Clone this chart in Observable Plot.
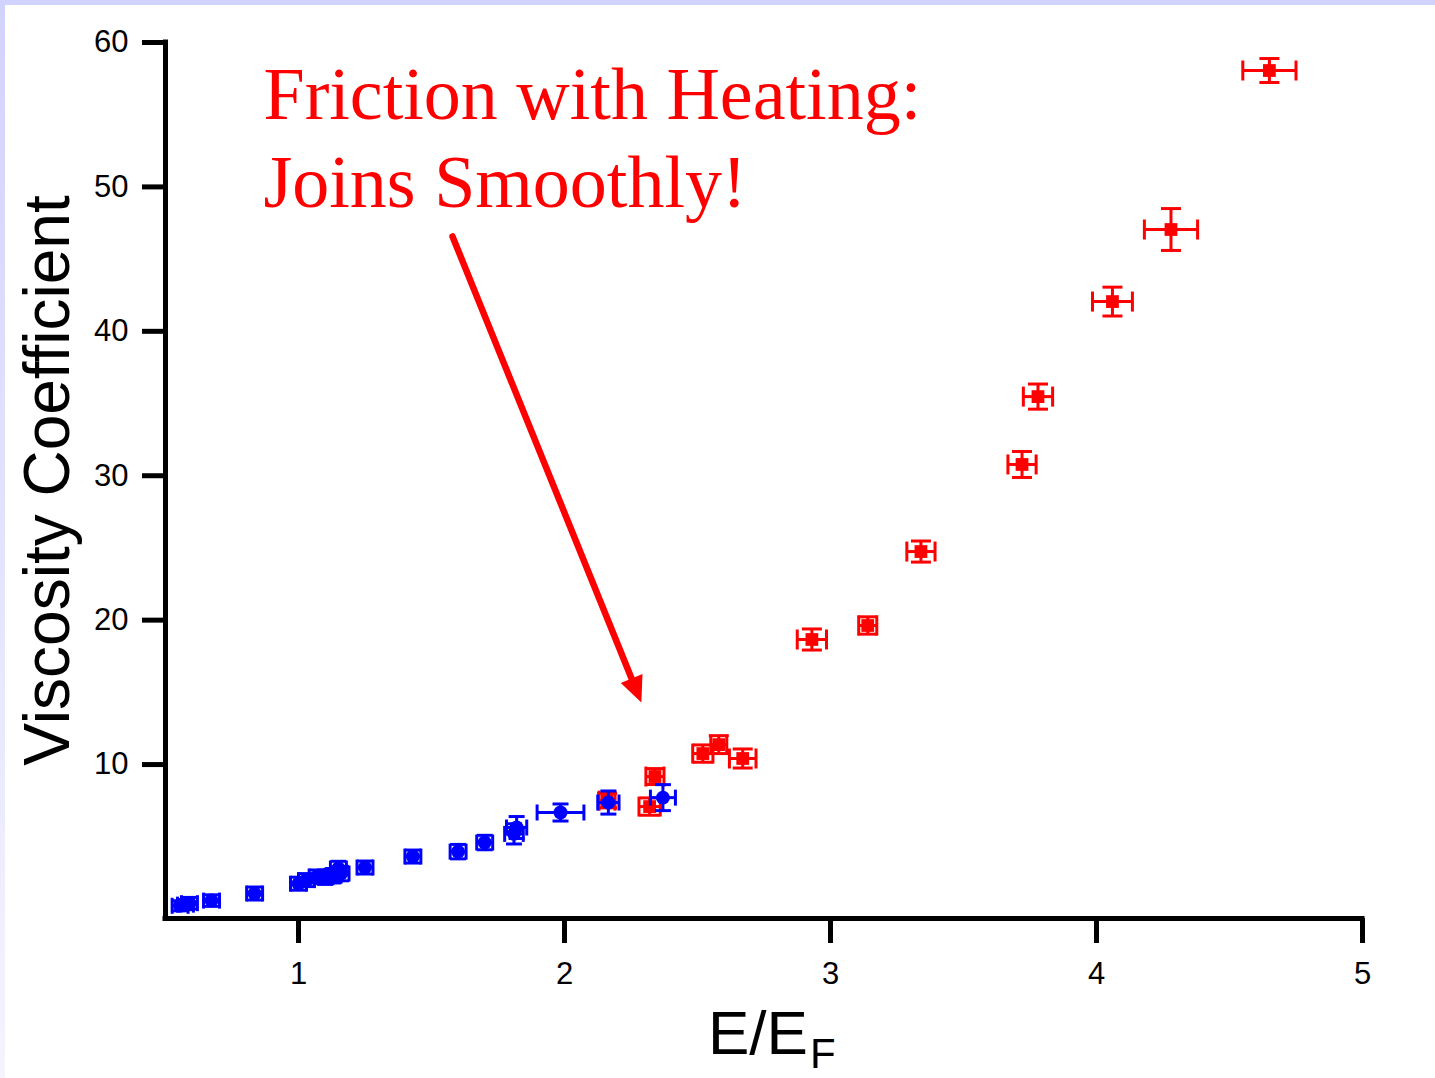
<!DOCTYPE html>
<html>
<head>
<meta charset="utf-8">
<script src="https://cdn.jsdelivr.net/npm/d3@7"></script>
<script src="https://cdn.jsdelivr.net/npm/@observablehq/plot@0.6"></script>
<style>
html, body { margin: 0; padding: 0; background: #ffffff; }
#wrap { position: relative; width: 1435px; height: 1078px; overflow: hidden; background: #ffffff; }
#topband { position: absolute; left: 0; top: 0; width: 1435px; height: 5px; background: #d2d2fe; }
#leftband { position: absolute; left: 0; top: 0; width: 5px; height: 1078px; background: linear-gradient(#d2d2fe, #f4f4fe); }
svg { display: block; }
</style>
</head>
<body>
<div id="wrap"><div id="chart"></div><div id="topband"></div><div id="leftband"></div></div>
<script>
// ---- data ----
const redX    = [4.65, 4.28, 4.06, 3.78, 3.72, 3.34, 3.14, 2.93, 2.67, 2.58, 2.52, 2.34, 2.32, 2.16];
const redY    = [58.06, 47.05, 42.06, 35.48, 30.78, 24.75, 19.63, 18.66, 10.42, 11.38, 10.76, 9.17, 7.09, 7.5];
const redXErr = [0.10, 0.10, 0.075, 0.055, 0.053, 0.053, 0.034, 0.055, 0.05, 0.03, 0.038, 0.034, 0.04, 0.03];
const redYErr = [0.83, 1.45, 1.0, 0.87, 0.9, 0.73, 0.6, 0.73, 0.66, 0.62, 0.6, 0.55, 0.6, 0.5];

const blueX    = [2.37, 2.165, 1.985, 1.82, 1.81, 1.70, 1.60, 1.43, 1.25, 1.15, 1.16, 1.13, 1.10, 1.07, 1.03, 1.00, 0.835, 0.673, 0.59, 0.575, 0.555];
const blueY    = [7.71, 7.37, 6.68, 5.64, 5.2, 4.6, 3.97, 3.63, 2.87, 2.8, 2.45, 2.3, 2.2, 2.25, 2.0, 1.75, 1.07, 0.58, 0.4, 0.3, 0.22];
const blueXErr = [0.047, 0.04, 0.088, 0.038, 0.035, 0.03, 0.03, 0.03, 0.03, 0.03, 0.03, 0.03, 0.03, 0.03, 0.03, 0.03, 0.03, 0.03, 0.03, 0.03, 0.03];
const blueYErr = [0.9, 0.8, 0.59, 0.76, 0.7, 0.5, 0.5, 0.45, 0.45, 0.5, 0.5, 0.5, 0.5, 0.45, 0.45, 0.45, 0.45, 0.4, 0.4, 0.35, 0.35];

const xTicks = [1, 2, 3, 4, 5];
const yTicks = [10, 20, 30, 40, 50, 60];

const annotationLines = ["Friction with Heating:", "Joins Smoothly!"];
const arrowFrom = [1.579, 46.57];
const arrowTo   = [2.289, 14.29];

// ---- tables ----
const red  = redX.map((x, i) => ({x, y: redY[i], ex: redXErr[i], ey: redYErr[i]}));
const blue = blueX.map((x, i) => ({x, y: blueY[i], ex: blueXErr[i], ey: blueYErr[i]}));
const arrowRow = [{x1: arrowFrom[0], y1: arrowFrom[1], x2: arrowTo[0], y2: arrowTo[1]}];

const RED = "#ff0000", BLUE = "#0000ff";

// custom symbols
const capH = {draw(ctx, size) { const r = Math.sqrt(size / Math.PI); ctx.moveTo(-r, 0); ctx.lineTo(r, 0); }};
const capV = {draw(ctx, size) { const r = Math.sqrt(size / Math.PI); ctx.moveTo(0, -r); ctx.lineTo(0, r); }};
const head = {draw(ctx, size) { const r = Math.sqrt(size / Math.PI); ctx.moveTo(0, 0); ctx.lineTo(-0.45 * r, r); ctx.lineTo(0.45 * r, r); ctx.closePath(); }};

function errorMarks(data, color, capR) {
  return [
    Plot.ruleY(data, {y: "y", x1: d => d.x - d.ex, x2: d => d.x + d.ex, stroke: color, strokeWidth: 3}),
    Plot.ruleX(data, {x: "x", y1: d => d.y - d.ey, y2: d => d.y + d.ey, stroke: color, strokeWidth: 3}),
    Plot.dot(data, {x: d => d.x - d.ex, y: "y", symbol: capV, r: capR, stroke: color, strokeWidth: 3, fill: "none"}),
    Plot.dot(data, {x: d => d.x + d.ex, y: "y", symbol: capV, r: capR, stroke: color, strokeWidth: 3, fill: "none"}),
    Plot.dot(data, {x: "x", y: d => d.y - d.ey, symbol: capH, r: capR, stroke: color, strokeWidth: 3, fill: "none"}),
    Plot.dot(data, {x: "x", y: d => d.y + d.ey, symbol: capH, r: capR, stroke: color, strokeWidth: 3, fill: "none"})
  ];
}

const plot = Plot.plot({
  width: 1435,
  height: 1078,
  marginLeft: 165,
  marginRight: 73,
  marginTop: 42,
  marginBottom: 160,
  style: {fontFamily: "'Liberation Sans', Arial, sans-serif", color: "#000", background: "transparent"},
  x: {domain: [0.5, 5]},
  y: {domain: [-0.66, 60]},
  marks: [
    Plot.axisX({ticks: xTicks, tickSize: 25, tickPadding: 18, fontSize: 31, strokeWidth: 5, label: null, tickFormat: d => String(d)}),
    Plot.axisY({ticks: yTicks, tickSize: 23, tickPadding: 14, fontSize: 31, strokeWidth: 5, label: null, tickFormat: d => String(d)}),
    Plot.ruleY([-0.66], {stroke: "#000", strokeWidth: 5, strokeLinecap: "square"}),
    Plot.ruleX([0.5], {stroke: "#000", strokeWidth: 5, strokeLinecap: "square"}),
    ...errorMarks(red, RED, 10),
    Plot.dot(red, {x: "x", y: "y", symbol: "square", r: 7.2, fill: RED}),
    ...errorMarks(blue, BLUE, 8),
    Plot.dot(blue, {x: "x", y: "y", r: 7, fill: BLUE}),
    Plot.arrow(arrowRow, {x1: "x1", y1: "y1", x2: "x2", y2: "y2", stroke: RED, strokeWidth: 6.5, headLength: 0, insetEnd: 18}),
    Plot.dot(arrowRow, {x: "x2", y: "y2", symbol: head, r: 26, fill: RED, rotate: 158}),
    Plot.text([annotationLines[0]], {frameAnchor: "top-left", dx: 98, dy: 76, lineAnchor: "bottom", textAnchor: "start", fontSize: 74, fill: RED, fontFamily: "'Liberation Serif', 'Times New Roman', serif"}),
    Plot.text([annotationLines[1]], {frameAnchor: "top-left", dx: 98, dy: 164, lineAnchor: "bottom", textAnchor: "start", fontSize: 74, fill: RED, fontFamily: "'Liberation Serif', 'Times New Roman', serif"}),
    Plot.text(["Viscosity Coefficient"], {frameAnchor: "left", rotate: -90, dx: -97, lineAnchor: "bottom", textAnchor: "middle", fontSize: 64, fill: "#000"})
  ]
});

document.getElementById("chart").appendChild(plot);

// x-axis label with subscript
const xl = d3.select(plot).append("text")
  .attr("x", 708).attr("y", 1054)
  .attr("text-anchor", "start")
  .attr("font-family", "'Liberation Sans', Arial, sans-serif")
  .attr("font-size", 62).attr("fill", "#000");
xl.append("tspan").text("E/E");
xl.append("tspan").attr("font-size", 42).attr("dx", 2).attr("dy", 14).text("F");
</script>
</body>
</html>
